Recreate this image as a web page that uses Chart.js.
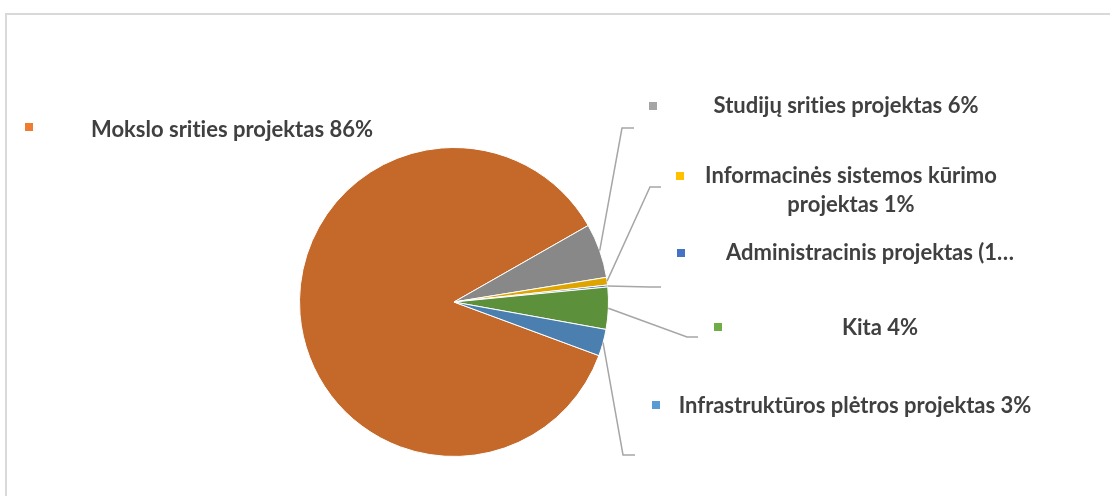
<!DOCTYPE html>
<html lang="lt">
<head>
<meta charset="utf-8">
<title>Projektų pasiskirstymas</title>
<script src="https://cdn.jsdelivr.net/npm/chart.js@4"></script>
<style>
  html, body { margin: 0; padding: 0; background: #fff; }
  #wrap { position: relative; width: 1110px; height: 496px; overflow: hidden; }
  #frame {
    position: absolute; left: 5px; top: 13px; width: 1120px; height: 500px;
    border-left: 2px solid #d9d9d9; border-top: 2px solid #d9d9d9;
  }
  canvas { position: absolute; left: 0; top: 0; }
</style>
</head>
<body>
<div id="wrap">
  <div id="frame"></div>
  <canvas id="chart-projects" width="1110" height="496"></canvas>
</div>
<script>
/* =============================================
   Projektų tipai — pie chart
   ============================================= */

// Categories and values (percent share)
const categories = [
  'Mokslo srities projektas',
  'Studijų srities projektas',
  'Informacinės sistemos kūrimo projektas',
  'Administracinis projektas',
  'Kita',
  'Infrastruktūros plėtros projektas'
];
const shares = [86.2, 5.7, 0.8, 0.2, 4.4, 2.8];

// Data label text as it appears (lines)
const labelLines = [
  ['Mokslo srities projektas 86%'],
  ['Studijų srities projektas 6%'],
  ['Informacinės sistemos kūrimo', 'projektas 1%'],
  ['Administracinis projektas (1…'],
  ['Kita 4%'],
  ['Infrastruktūros plėtros projektas 3%']
];

// Slice fills (shaded) and legend key colours
const sliceColors = ['#c5692a', '#888888', '#dea500', '#3f6ab0', '#5d903b', '#4a7fb0'];
const keyColors = ['#ed7d31', '#a5a5a5', '#ffc000', '#4472c4', '#70ad47', '#5b9bd5'];

// Label placement: key square, text centre/baseline, leader elbow + end
const labelLayout = [
  { key: [25, 123], text: [232, 137], leader: null },
  { key: [649, 102], text: [846, 113], leader: [[622, 128], [634, 128]] },
  { key: [676, 172], text: [851, 183], leader: [[650, 187], [661, 187]] },
  { key: [677, 249], text: [870, 260], leader: [[650, 287], [661, 287]] },
  { key: [714, 323], text: [880, 335], leader: [[687, 337], [698, 337]] },
  { key: [652, 401], text: [855, 413], leader: [[623, 455], [635, 455]] }
];

const labelFont = "bold 22px 'Lato', 'DejaVu Sans', sans-serif";
const lineHeight = 29;

// Draws leader lines, legend keys and label text
const pieLabels = {
  id: 'pieLabels',
  afterDatasetsDraw(chart) {
    const ctx = chart.ctx;
    const arcs = chart.getDatasetMeta(0).data;
    ctx.save();

    arcs.forEach((arc, i) => {
      const lay = labelLayout[i];
      if (!lay.leader) return;
      const { x, y, startAngle, endAngle, outerRadius } = arc.getProps(
        ['x', 'y', 'startAngle', 'endAngle', 'outerRadius'], true);
      const mid = (startAngle + endAngle) / 2;
      ctx.beginPath();
      ctx.moveTo(x + Math.cos(mid) * outerRadius, y + Math.sin(mid) * outerRadius);
      lay.leader.forEach(p => ctx.lineTo(p[0], p[1]));
      ctx.strokeStyle = '#a6a6a6';
      ctx.lineWidth = 1.5;
      ctx.stroke();
    });

    ctx.font = labelFont;
    if ('textRendering' in ctx) ctx.textRendering = 'optimizeSpeed'; // no "ti" ligature
    ctx.textAlign = 'center';
    ctx.textBaseline = 'alphabetic';
    labelLines.forEach((lines, i) => {
      const lay = labelLayout[i];
      ctx.fillStyle = keyColors[i];
      ctx.fillRect(lay.key[0], lay.key[1], 8, 8);
      ctx.fillStyle = '#404040';
      lines.forEach((line, j) => {
        ctx.fillText(line, lay.text[0], lay.text[1] + j * lineHeight);
      });
    });
    ctx.restore();
  }
};

const ctx = document.getElementById('chart-projects').getContext('2d');
new Chart(ctx, {
  type: 'pie',
  data: {
    labels: categories,
    datasets: [{
      data: shares,
      backgroundColor: sliceColors,
      borderColor: '#ffffff',
      borderWidth: 1,
      hoverOffset: 0
    }]
  },
  options: {
    responsive: false,
    animation: false,
    rotation: 110.3,
    layout: {
      padding: { left: 299, right: 501, top: 147, bottom: 39 }
    },
    plugins: {
      legend: { display: false },
      tooltip: { enabled: false }
    },
    events: []
  },
  plugins: [pieLabels]
});
</script>
</body>
</html>
